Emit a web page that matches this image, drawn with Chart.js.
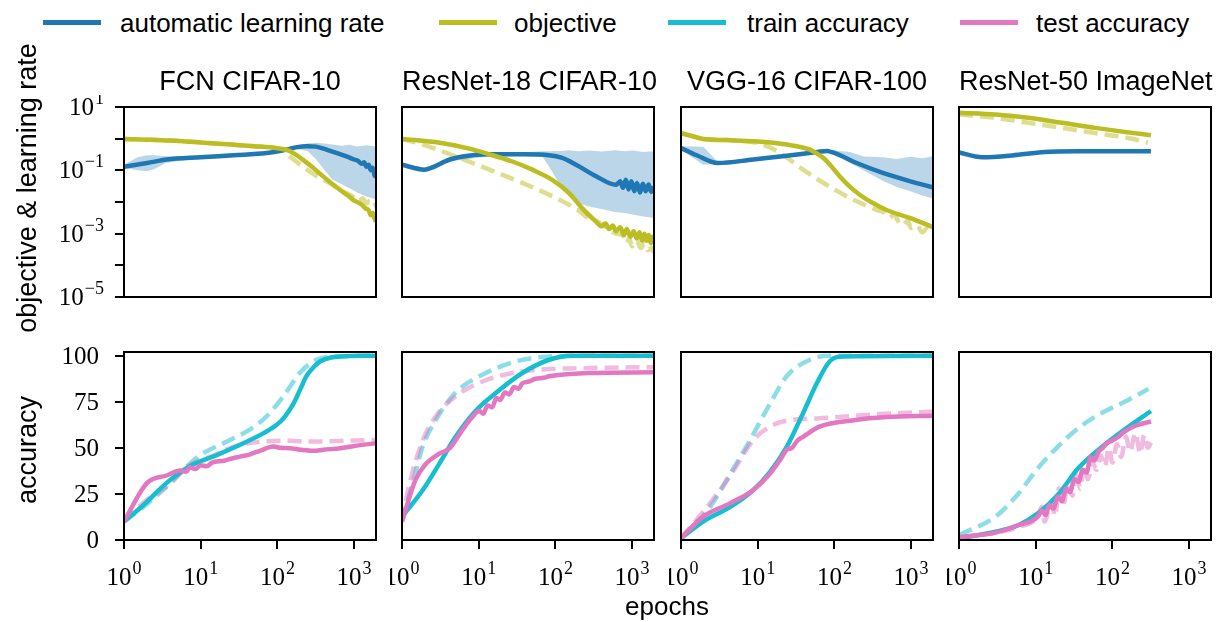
<!DOCTYPE html>
<html>
<head>
<meta charset="utf-8">
<title>Automatic learning rate across models</title>
<script src="https://cdn.jsdelivr.net/npm/chart.js@4.4.1/dist/chart.umd.min.js"></script>
<style>
  html, body { margin: 0; padding: 0; background: #ffffff; }
  #fig { position: relative; width: 1217px; height: 622px; overflow: hidden; background: #ffffff;
         font-family: "Liberation Sans", Arial, sans-serif; color: #000; }
  #fig canvas { position: absolute; }
  .txt { position: absolute; white-space: nowrap; line-height: 30px; height: 30px; }
  .swatch { position: absolute; height: 5px; width: 58px; }
  .rot { position: absolute; white-space: nowrap; line-height: 30px;
         transform: translate(-50%, -50%) rotate(-90deg); }
</style>
</head>
<body>
<div id="fig"></div>
<script>
// ================= DATA =================
const panelTitles = ['FCN CIFAR-10', 'ResNet-18 CIFAR-10', 'VGG-16 CIFAR-100', 'ResNet-50 ImageNet'];
const seriesNames = ['automatic learning rate', 'objective', 'train accuracy', 'test accuracy'];

const epochTicks = [1, 10, 100, 1000];
const epochTickExponents = ['0', '1', '2', '3'];
const objectiveTicks = [10, 1, 0.1, 0.01, 0.001, 0.0001, 0.00001];
const objectiveLabelTicks = [10, 0.1, 0.001, 0.00001];
const objectiveLabelExponents = ['1', '\u22121', '\u22123', '\u22125'];
const accuracyTicks = [0, 25, 50, 75, 100];

// ---- FCN CIFAR-10 ----
const fcnLR = [[1,0.13],[2,0.17],[3.6,0.22],[10,0.26],[27,0.30],[72,0.35],[132,0.45],[180,0.54],[240,0.58],[320,0.56],[436,0.45],[600,0.35],[794,0.275],[1000,0.22],[1122,0.2],[1259,0.16],[1350,0.18],[1450,0.13],[1550,0.15],[1650,0.1],[1750,0.12],[1850,0.07],[1930,0.06]];
const fcnBandEpochs = [1,1.5,2,2.5,3.5,6,10,30,80,126,180,250,320,400,525,700,870,1100,1450,1930];
const fcnLRUpper = [0.15,0.26,0.3,0.3,0.28,0.27,0.3,0.34,0.4,0.48,0.6,0.72,0.74,0.7,0.66,0.6,0.64,0.57,0.62,0.57];
const fcnLRLower = [0.12,0.1,0.093,0.11,0.17,0.21,0.24,0.28,0.33,0.42,0.47,0.4,0.22,0.11,0.05,0.036,0.027,0.02,0.015,0.012];
const fcnObjective = [[1,0.98],[2,0.93],[4,0.87],[10,0.76],[25,0.65],[50,0.58],[100,0.50],[141,0.42],[178,0.30],[224,0.20],[282,0.13],[355,0.08],[447,0.05],[562,0.032],[708,0.021],[800,0.017],[891,0.014],[1000,0.011],[1122,0.0098],[1259,0.0082],[1413,0.0062],[1550,0.0055],[1650,0.0038],[1750,0.0045],[1850,0.003],[1930,0.0024]];
const fcnObjectiveBase = [[1,0.98],[2,0.93],[4,0.87],[10,0.76],[25,0.65],[50,0.57],[100,0.48],[126,0.38],[145,0.28],[200,0.15],[263,0.093],[355,0.058],[525,0.035],[708,0.022],[955,0.015],[1150,0.011],[1300,0.013],[1450,0.009],[1600,0.011],[1750,0.0075],[1930,0.0085]];
const fcnTrain = [[1,10],[1.8,19],[3.6,31],[7.2,40],[16,46],[36,52.5],[66,58],[98,62.5],[120,66],[162,74],[200,82],[240,89],[300,94],[363,97],[500,99],[660,99.6],[1930,100]];
const fcnTrainBase = [[1,10],[1.8,18],[3.6,29],[6.6,40],[9.8,46],[22,53.4],[44,60],[72,67],[120,78],[195,90.6],[324,97.8],[500,99.5],[1930,100]];
const fcnTest = [[1,10],[2,31],[3.6,35],[5.4,37.7],[6.5,37],[7.2,39.5],[8.5,38.5],[10,40.5],[12,40],[14,42],[20,43],[27,44.5],[35,45.5],[44,46.5],[60,48.5],[89,50.7],[110,50],[145,49.8],[200,49],[295,48.4],[400,49],[660,49.8],[1000,51],[1930,52.5]];
const fcnTestBase = [[1,10],[2,22],[3.6,29],[7.5,41],[15,46],[27,50.7],[63,53.4],[150,53.8],[251,53.4],[500,53.6],[1000,54],[1930,54.3]];

// ---- ResNet-18 CIFAR-10 ----
const res18LR = [[1,0.15],[1.95,0.105],[4.2,0.22],[6.2,0.275],[13.8,0.32],[40,0.32],[83,0.3],[120,0.25],[186,0.15],[339,0.065],[617,0.035],[700,0.045],[760,0.028],[830,0.05],[900,0.025],[980,0.045],[1070,0.022],[1160,0.04],[1270,0.02],[1380,0.038],[1500,0.022],[1640,0.036],[1780,0.021],[1930,0.03]];
const res18BandEpochs = [1,1.95,4.2,13.8,40,68,83,100,120,151,200,275,400,600,800,1000,1400,1930];
const res18LRUpper = [0.17,0.12,0.25,0.36,0.38,0.4,0.4,0.41,0.41,0.43,0.4,0.42,0.39,0.43,0.4,0.42,0.38,0.4];
const res18LRLower = [0.13,0.09,0.19,0.28,0.28,0.27,0.13,0.06,0.03,0.015,0.009,0.0072,0.006,0.0048,0.0045,0.004,0.0035,0.0031];
const res18Objective = [[1,0.98],[3.1,0.74],[6.8,0.51],[13.8,0.32],[27.5,0.19],[50,0.105],[91,0.05],[151,0.019],[224,0.0063],[339,0.0024],[400,0.0017],[450,0.0021],[500,0.0014],[560,0.0018],[617,0.0012],[700,0.0016],[780,0.0009],[850,0.0014],[950,0.0008],[1050,0.0012],[1150,0.0007],[1250,0.0011],[1350,0.0006],[1450,0.001],[1550,0.0006],[1650,0.0009],[1750,0.0005],[1850,0.0008],[1930,0.0006]];
const res18ObjectiveBase = [[1,0.98],[1.9,0.65],[5,0.275],[13.8,0.105],[37,0.04],[83,0.017],[120,0.011],[151,0.0081],[180,0.006],[200,0.0055],[240,0.0038],[275,0.0031],[340,0.0025],[400,0.002],[500,0.0014],[617,0.001],[750,0.0009],[850,0.0005],[912,0.0007],[1000,0.0004],[1150,0.0006],[1300,0.00035],[1450,0.0005],[1600,0.0003],[1780,0.00035],[1930,0.00025]];
const res18Train = [[1,12.7],[1.86,27],[3.1,41.7],[5,56],[9.1,70],[17,80],[37,90.6],[83,97.8],[166,100],[1930,100]];
const res18TrainBase = [[1,10.9],[1.38,31],[1.86,50.7],[2.75,65],[5,80],[11.2,89.7],[31,97],[83,99.6],[200,100],[1930,100]];
const res18Test = [[1,10],[1.5,32.6],[2,40.8],[3.1,47],[4.2,49.8],[6.2,60],[8,66],[10.2,70],[11.5,68.5],[13,73],[15,72],[17,77],[19,76],[22,80],[25,79],[29,83],[33,82],[37,85],[45,86],[55,87.5],[70,88],[83,88.8],[150,90],[275,90.6],[1930,91]];
const res18TestBase = [[1,10],[1.23,29],[1.86,54],[2.75,67],[5,78],[11.2,86],[37,91.5],[275,93.3],[1930,93.8]];

// ---- VGG-16 CIFAR-100 ----
const vggLR = [[1,0.51],[1.6,0.3],[3,0.17],[8.7,0.22],[24,0.29],[60,0.38],[80,0.41],[98,0.36],[195,0.17],[437,0.081],[977,0.045],[1930,0.029]];
const vggBandEpochs = [1,1.95,3,8.7,24,72,98,160,240,437,650,977,1400,1930];
const vggLRUpper = [0.58,0.56,0.19,0.24,0.31,0.42,0.42,0.38,0.275,0.26,0.23,0.27,0.24,0.28];
const vggLRLower = [0.45,0.15,0.16,0.21,0.28,0.38,0.34,0.17,0.1,0.045,0.03,0.022,0.016,0.013];
const vggObjective = [[1,1.5],[1.5,1.15],[1.95,0.98],[4,0.9],[8.7,0.83],[24,0.65],[48,0.45],[60,0.33],[72,0.245],[90,0.14],[117,0.065],[160,0.03],[214,0.017],[300,0.01],[479,0.0056],[977,0.0031],[1930,0.0016]];
const vggObjectiveBase = [[1,1.5],[1.5,1.15],[1.95,0.98],[4,0.9],[8,0.8],[11.7,0.65],[19.5,0.355],[39,0.105],[79,0.035],[178,0.0117],[355,0.0056],[450,0.0045],[520,0.0032],[600,0.004],[700,0.0022],[794,0.0019],[900,0.0026],[1000,0.0015],[1200,0.0018],[1400,0.0011],[1600,0.0014],[1930,0.0009]];
const vggTrain = [[1,1],[1.95,10],[4.4,18],[8.7,27],[14.5,37],[24,50.7],[39,68.8],[59,85],[87,97],[132,99.6],[1930,100]];
const vggTrainBase = [[1,1],[2.4,18],[4.4,36],[7.9,54],[14.5,74],[24,89],[48,97.8],[87,100],[1930,100]];
const vggTest = [[1,1],[1.95,12.7],[4.4,20],[8.7,27],[14.5,36],[20,44],[24,49],[28,50],[33,54],[39,56],[65,61.6],[178,65],[479,66.7],[1930,67.4]];
const vggTestBase = [[1,1],[2.4,20],[4.4,35],[8.7,54],[14.5,61.6],[26,65],[65,66],[288,68],[1930,69.7]];

// ---- ResNet-50 ImageNet ----
const r50LR = [[1,0.37],[2,0.26],[4.9,0.295],[13,0.38],[35,0.4],[318,0.4]];
const r50Objective = [[1,6.6],[3,5.75],[8,4.57],[22,3.16],[59,2.19],[162,1.58],[318,1.29]];
const r50ObjectiveBase = [[1,5.75],[3,4.57],[8,3.16],[22,2.19],[59,1.51],[162,1.05],[290,0.74]];
const r50Train = [[1,1],[3,4.5],[5.9,8],[10.7,14.5],[19.5,24.5],[36,39],[66,49],[145,60],[318,70]];
const r50TrainBase = [[1,2.7],[3,12.7],[5.9,25],[10.7,39],[19.5,50.7],[36,60.7],[66,68],[145,75],[295,82]];
const r50Test = [[1,1.5],[3,4],[5.9,8],[10.7,12.7],[12,16],[13.5,13.5],[15,19],[17,17],[19.5,23.5],[22,21],[25,28],[28,26],[32,33],[36,31.5],[41,38],[46,36.5],[52,45],[58,43],[66,48],[75,50],[85,52.5],[100,54],[120,56],[145,58.9],[200,62],[318,64.3]];
const r50TestBase = [[1,1.5],[3,4],[5.9,7],[10.7,13],[12,18],[13,10],[16,20],[18,13],[20,28],[23,19],[26,30],[30,24],[34,38],[38,28],[43,40],[48,33],[55,42],[62,38],[70,46],[80,40],[90,50],[100,42],[115,52],[130,45],[150,56],[170,48],[200,58],[230,47],[260,57],[290,50],[318,53]];

// ================= STYLE / LAYOUT =================
const C_BLUE = '#1f77b4', C_OLIVE = '#bcbd22', C_CYAN = '#17becf', C_PINK = '#e377c2';
const C_OLIVE_L = 'rgba(188,189,34,0.5)', C_CYAN_L = 'rgba(23,190,207,0.5)', C_PINK_L = 'rgba(227,119,194,0.5)';
const C_BAND = 'rgba(31,119,180,0.3)';
const SERIF = '"Liberation Serif", "Times New Roman", serif';
const PANEL_LEFTS = [124, 402, 681, 959];
const PANEL_W = 252;
const ROW_TOP = [107, 352];
const ROW_H = [190, 188];
const X_MAX = 1930;
const LINE_W = 4.5;

const fig = document.getElementById('fig');
const pts = arr => arr.map(p => ({x: p[0], y: p[1]}));
const bandPts = (ep, vals) => ep.map((e, i) => ({x: e, y: vals[i]}));

function drawTickText(ctx, base, sup, x, y, align) {
  ctx.font = '25px ' + SERIF;
  const wb = ctx.measureText(base).width;
  let ws = 0;
  if (sup) { ctx.font = '18px ' + SERIF; ws = ctx.measureText(sup).width + 1; }
  const total = wb + ws;
  const x0 = align === 'center' ? x - total / 2 : x - total;
  ctx.font = '25px ' + SERIF;
  ctx.fillText(base, x0, y);
  if (sup) { ctx.font = '18px ' + SERIF; ctx.fillText(sup, x0 + wb + 1, y - 11); }
}

const framePlugin = {
  id: 'frame',
  afterDatasetsDraw(chart) {
    const {ctx, chartArea: a} = chart;
    ctx.save();
    ctx.strokeStyle = '#000'; ctx.lineWidth = 2;
    ctx.strokeRect(a.left, a.top, a.right - a.left, a.bottom - a.top);
    ctx.restore();
  },
  afterDraw(chart) {
    const lab = chart.canvas._tickLabels || {};
    const {ctx, chartArea: a} = chart;
    ctx.save();
    ctx.fillStyle = '#000'; ctx.textAlign = 'left'; ctx.textBaseline = 'alphabetic';
    (lab.x || []).forEach(t => drawTickText(ctx, t.base, t.sup, chart.scales.x.getPixelForValue(t.value), a.bottom + 45, 'center'));
    (lab.y || []).forEach(t => drawTickText(ctx, t.base, t.sup, a.left - (t.sup ? 20 : 25), chart.scales.y.getPixelForValue(t.value) + 8, 'right'));
    ctx.restore();
  }
};

function line(data, color, order, dashed) {
  return {data: pts(data), borderColor: color, backgroundColor: color, borderWidth: LINE_W,
          borderDash: dashed ? [14, 7] : [], pointRadius: 0, fill: false, order: order,
          cubicInterpolationMode: 'monotone'};
}

function addPanel(col, row, datasets, labels, yScale) {
  const L = PANEL_LEFTS[col], T = ROW_TOP[row], W = PANEL_W, H = ROW_H[row];
  const padL = col === 0 ? 110 : 12, padT = 12, padR = 12, padB = row === 1 ? 60 : 12;
  const cv = document.createElement('canvas');
  const cw = W + padL + padR, ch = H + padT + padB;
  cv.width = cw; cv.height = ch;
  cv.style.left = (L - padL) + 'px'; cv.style.top = (T - padT) + 'px';
  cv.style.width = cw + 'px'; cv.style.height = ch + 'px';
  cv._tickLabels = labels;
  fig.appendChild(cv);
  const tickGrid = show => ({display: show, drawOnChartArea: false, drawTicks: true, tickLength: 9,
                             lineWidth: 2, tickWidth: 2, color: '#000', tickColor: '#000'});
  new Chart(cv, {
    type: 'line',
    data: {datasets},
    options: {
      responsive: false, animation: false, devicePixelRatio: 1, events: [],
      layout: {padding: {top: padT, right: padR, left: 0, bottom: 0}},
      plugins: {legend: {display: false}, tooltip: {enabled: false}},
      scales: {
        x: {type: 'logarithmic', min: 1, max: X_MAX, border: {display: false},
            grid: tickGrid(row === 1), ticks: {display: false},
            afterBuildTicks: s => { s.ticks = epochTicks.map(v => ({value: v})); },
            afterFit: s => { s.height = padB; }},
        y: Object.assign({border: {display: false}, grid: tickGrid(col === 0), ticks: {display: false},
            afterFit: s => { s.width = padL; }}, yScale)
      }
    },
    plugins: [framePlugin]
  });
}

const topPanels = [
  {lr: fcnLR, obj: fcnObjective, objBase: fcnObjectiveBase, band: [fcnBandEpochs, fcnLRUpper, fcnLRLower]},
  {lr: res18LR, obj: res18Objective, objBase: res18ObjectiveBase, band: [res18BandEpochs, res18LRUpper, res18LRLower]},
  {lr: vggLR, obj: vggObjective, objBase: vggObjectiveBase, band: [vggBandEpochs, vggLRUpper, vggLRLower]},
  {lr: r50LR, obj: r50Objective, objBase: r50ObjectiveBase, band: null}
];
const bottomPanels = [
  {train: fcnTrain, trainBase: fcnTrainBase, test: fcnTest, testBase: fcnTestBase},
  {train: res18Train, trainBase: res18TrainBase, test: res18Test, testBase: res18TestBase},
  {train: vggTrain, trainBase: vggTrainBase, test: vggTest, testBase: vggTestBase},
  {train: r50Train, trainBase: r50TrainBase, test: r50Test, testBase: r50TestBase}
];

const xLabels = epochTicks.map((v, i) => ({value: v, base: '10', sup: epochTickExponents[i]}));
const objYLabels = objectiveLabelTicks.map((v, i) => ({value: v, base: '10', sup: objectiveLabelExponents[i]}));
const accYLabels = accuracyTicks.map(v => ({value: v, base: String(v), sup: ''}));

topPanels.forEach((p, col) => {
  const ds = [];
  if (p.band) {
    ds.push({data: bandPts(p.band[0], p.band[1]), borderWidth: 0, borderColor: 'rgba(0,0,0,0)', pointRadius: 0,
             backgroundColor: C_BAND, fill: '+1', order: 10, tension: 0});
    ds.push({data: bandPts(p.band[0], p.band[2]), borderWidth: 0, borderColor: 'rgba(0,0,0,0)', pointRadius: 0,
             fill: false, order: 11, tension: 0});
  }
  ds.push(line(p.objBase, C_OLIVE_L, 5, true));
  ds.push(line(p.lr, C_BLUE, 2, false));
  ds.push(line(p.obj, C_OLIVE, 1, false));
  addPanel(col, 0, ds, {x: [], y: col === 0 ? objYLabels : []}, {
    type: 'logarithmic', min: 0.00001, max: 10,
    afterBuildTicks: s => { s.ticks = objectiveTicks.map(v => ({value: v})); }
  });
});

bottomPanels.forEach((p, col) => {
  const ds = [
    line(p.trainBase, C_CYAN_L, 6, true),
    line(p.testBase, C_PINK_L, 5, true),
    line(p.train, C_CYAN, 2, false),
    line(p.test, C_PINK, 1, false)
  ];
  addPanel(col, 1, ds, {x: xLabels, y: col === 0 ? accYLabels : []}, {
    type: 'linear', min: 0, max: 102,
    afterBuildTicks: s => { s.ticks = accuracyTicks.map(v => ({value: v})); }
  });
});

function addText(cls, text, css) {
  const d = document.createElement('div');
  d.className = cls; d.textContent = text;
  Object.assign(d.style, css);
  fig.appendChild(d);
  return d;
}
const legendColors = [C_BLUE, C_OLIVE, C_CYAN, C_PINK];
const legendSwatchX = [43, 439, 668, 960];
const legendTextX = [120, 514, 747, 1036];
seriesNames.forEach((name, i) => {
  const s = document.createElement('div');
  s.className = 'swatch';
  Object.assign(s.style, {left: legendSwatchX[i] + 'px', top: '20px', background: legendColors[i]});
  fig.appendChild(s);
  addText('txt', name, {left: legendTextX[i] + 'px', top: '8px', fontSize: '26px'});
});
panelTitles.forEach((t, i) => {
  addText('txt', t, {left: PANEL_LEFTS[i] + 'px', width: PANEL_W + 'px', top: '66px', fontSize: '27px', textAlign: 'center'});
});
addText('txt', 'epochs', {left: '567px', width: '200px', top: '591px', fontSize: '26px', textAlign: 'center'});
addText('rot', 'objective & learning rate', {left: '27px', top: '188px', fontSize: '27px'});
addText('rot', 'accuracy', {left: '27px', top: '450px', fontSize: '27px'});
</script>
</body>
</html>
